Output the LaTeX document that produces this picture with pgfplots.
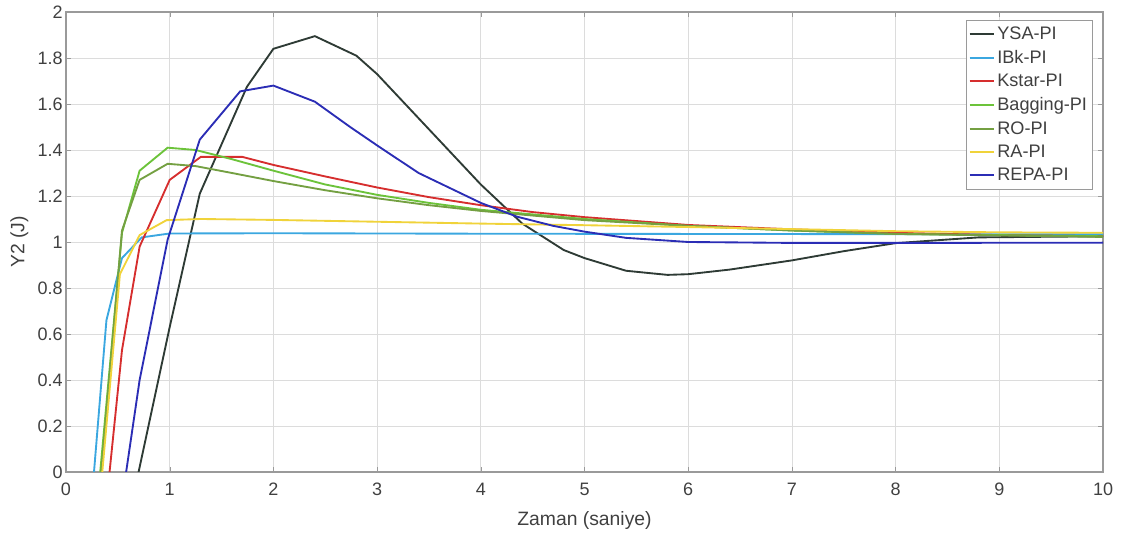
\documentclass[border=0pt]{standalone}
\usepackage{pgfplots}
\pgfplotsset{compat=1.18}
\usepackage{fontspec}
\setmainfont{Liberation Sans}

\definecolor{ysa}{HTML}{2E3B35}
\definecolor{ibk}{HTML}{3BA7E0}
\definecolor{kstar}{HTML}{D62E2E}
\definecolor{bagging}{HTML}{6CC33A}
\definecolor{ro}{HTML}{74A042}
\definecolor{ra}{HTML}{F0D33A}
\definecolor{repa}{HTML}{2B2DB5}
\definecolor{gridc}{HTML}{DCDCDC}
\definecolor{axc}{HTML}{9A9A9A}
\definecolor{txt}{HTML}{404040}

\begin{document}
\begin{tikzpicture}
\begin{axis}[
scale only axis,
width=777.75pt,height=345pt,
xmin=0,xmax=10,ymin=0,ymax=2,
xtick={0,1,...,10},
ytick={0,0.2,...,2},
grid=major,
major grid style={gridc,line width=0.6pt},
axis line style={axc,line width=0.8pt},
tick style={axc},
tick align=inside,
major tick length=4pt,
tick label style={font=\fontsize{13.5}{15}\selectfont,text=txt},
xticklabel style={yshift=-5pt},
yticklabel style={xshift=1pt},
label style={font=\fontsize{14.5}{16}\selectfont,text=txt},
/pgf/number format/assume math mode=true,
xlabel={Zaman (saniye)},
xlabel style={at={(axis description cs:0.5,0)},anchor=base,yshift=-40pt},
ylabel={Y2 (J)},
legend cell align=left,
legend style={at={(0.990,0.983)},anchor=north east,draw=axc,fill=white,
  font=\fontsize{13.6}{16}\selectfont,text=txt,row sep=2.6pt,inner xsep=2pt,inner ysep=3pt},
legend image code/.code={\draw[#1] (0pt,0pt) -- (18pt,0pt);},
every axis plot/.append style={line width=1.4pt},
]
\addplot[ysa] coordinates {(0.70,0) (1.0,0.63) (1.29,1.21) (1.745,1.675) (2.0,1.84) (2.4,1.895) (2.8,1.81) (3.0,1.73) (3.5,1.49) (4.0,1.25) (4.4,1.08) (4.8,0.965) (5.0,0.93) (5.4,0.875) (5.8,0.857) (6.0,0.86) (6.4,0.88) (7.0,0.92) (7.5,0.96) (8.0,0.995) (8.8,1.02) (10,1.025)};
\addlegendentry{YSA-PI}
\addplot[ibk] coordinates {(0.27,0) (0.39,0.66) (0.54,0.93) (0.73,1.02) (1.0,1.037) (2,1.038) (4,1.036) (6,1.035) (8,1.034) (10,1.033)};
\addlegendentry{IBk-PI}
\addplot[kstar] coordinates {(0.42,0) (0.54,0.53) (0.71,0.98) (1.0,1.27) (1.3,1.37) (1.7,1.37) (2.0,1.335) (2.5,1.285) (3.0,1.237) (3.5,1.195) (4.0,1.16) (4.5,1.13) (5.0,1.108) (6.0,1.074) (7.0,1.055) (8.0,1.04) (9.0,1.03) (10,1.025)};
\addlegendentry{Kstar-PI}
\addplot[bagging] coordinates {(0.33,0) (0.54,1.04) (0.71,1.31) (0.98,1.41) (1.25,1.40) (1.6,1.36) (2.0,1.31) (2.5,1.25) (3.0,1.205) (3.5,1.17) (4.0,1.14) (5.0,1.10) (6.0,1.07) (7.0,1.05) (8.0,1.035) (9,1.03) (10,1.025)};
\addlegendentry{Bagging-PI}
\addplot[ro] coordinates {(0.34,0) (0.54,1.05) (0.71,1.27) (0.98,1.34) (1.25,1.33) (1.6,1.30) (2.0,1.265) (2.5,1.225) (3.0,1.19) (3.5,1.16) (4.0,1.135) (5.0,1.095) (6.0,1.07) (7.0,1.05) (8.0,1.035) (10,1.022)};
\addlegendentry{RO-PI}
\addplot[ra] coordinates {(0.35,0) (0.52,0.86) (0.71,1.03) (0.97,1.095) (1.3,1.10) (2,1.096) (3,1.088) (4,1.08) (5,1.073) (6,1.065) (7,1.056) (8,1.047) (9,1.042) (10,1.04)};
\addlegendentry{RA-PI}
\addplot[repa] coordinates {(0.58,0) (0.71,0.40) (0.98,1.01) (1.29,1.445) (1.68,1.655) (2.0,1.68) (2.4,1.61) (2.74,1.50) (3.0,1.42) (3.4,1.30) (4.0,1.17) (4.35,1.11) (4.7,1.07) (5.0,1.045) (5.4,1.018) (6.0,1.0) (7,0.996) (8,0.996) (10,0.997)};
\addlegendentry{REPA-PI}
\end{axis}
\path ([xshift=-49.5pt,yshift=-45.75pt]current axis.south west);
\path ([xshift=15pt,yshift=9pt]current axis.north east);
\end{tikzpicture}
\end{document}
